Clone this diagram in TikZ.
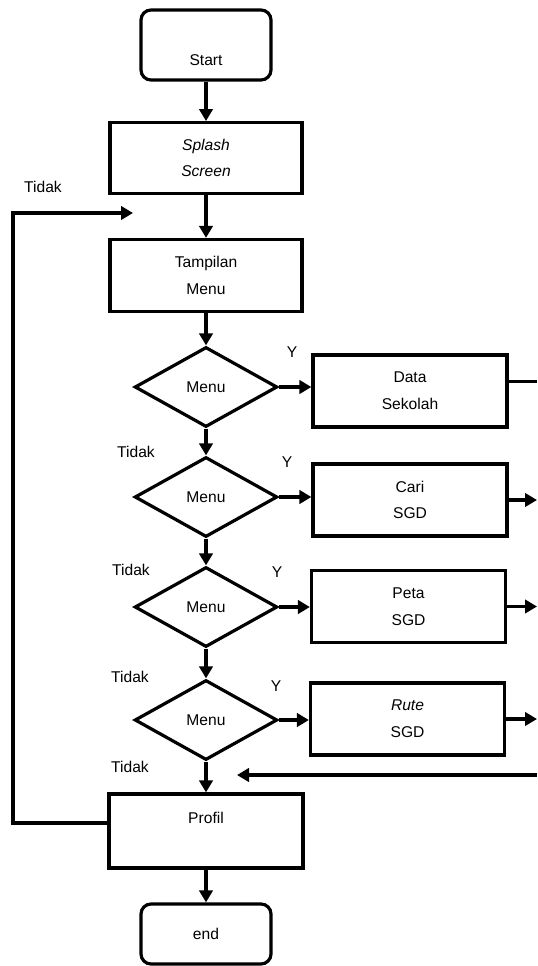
\documentclass[tikz,border=0pt]{standalone}
\usepackage{fontspec}
\setmainfont{Liberation Sans}
\usetikzlibrary{shapes.geometric,arrows.meta}

\begin{document}
\begin{tikzpicture}[x=0.75pt, y=-0.75pt, line width=2.4pt,
                    >={Triangle[length=9pt,width=10pt]},
                    every node/.style={font=\fontsize{11.7}{20}\selectfont, align=center},
                    term node/.style={draw, rounded corners=7.5pt, minimum width=97.5pt, inner sep=0pt},
                    box node/.style={draw, minimum width=144pt, minimum height=53pt, inner sep=0pt},
                    side node/.style={draw, minimum width=145.5pt, minimum height=54pt, inner sep=0pt},
                    menu node/.style={draw, diamond, minimum width=107pt, minimum height=60pt, inner sep=0pt}]

		  \useasboundingbox (0,0) rectangle (537,966);

		  \node[term node, minimum height=52.5pt, text height=39.5pt, text depth=8pt] (start) at (206,45) {Start};
		  \node[box node] (splash) at (206,158) {\textit{Splash}\\\textit{Screen}};
		  \node[box node, minimum height=54pt] (tampil) at (206,275.5) {Tampilan\\Menu};
		  \node[menu node] (menu1) at (206,387) {Menu};
		  \node[menu node] (menu2) at (206,497) {Menu};
		  \node[menu node] (menu3) at (206,607) {Menu};
		  \node[menu node] (menu4) at (206,720) {Menu};
		  \node[side node] (data) at (410,391) {Data\\Sekolah};
		  \node[side node] (cari) at (410,500) {Cari\\SGD};
		  \node[side node] (peta) at (408.5,606.5) {Peta\\SGD};
		  \node[side node] (rute) at (407.5,719) {\textit{Rute}\\SGD};
		  \node[box node, minimum width=145.5pt, minimum height=55.5pt] (profil) at (206,831) {Profil\\\mbox{}};
		  \node[term node, minimum height=45pt] (stop) at (206,934) {end};

		  \node (tidak0) at (43,187) {Tidak};
		  \node (ya1) at (292,352) {Y};
		  \node (tidak1) at (136,452) {Tidak};
		  \node (ya2) at (287,462) {Y};
		  \node (tidak2) at (131,570) {Tidak};
		  \node (ya3) at (277,572) {Y};
		  \node (tidak3) at (130,677) {Tidak};
		  \node (ya4) at (276,686) {Y};
		  \node (tidak4) at (130,767) {Tidak};

		  \coordinate (rgt) at (537,0);
		  \coordinate (loopl) at (13,0);
		  \coordinate (looptip) at (133,213);
		  \coordinate (back) at (537,775);
		  \coordinate (backtip) at (237,775);

		  \path[->]
		    (start) edge (splash)
		    (splash) edge (tampil)
		    (tampil) edge (menu1)
		    (menu1) edge (menu2)
		    (menu2) edge (menu3)
		    (menu3) edge (menu4)
		    (menu4) edge (profil)
		    (profil) edge (stop)
		    ;

		  \foreach \m/\b in {menu1/data, menu2/cari, menu3/peta, menu4/rute}
		    \draw[->] (\m.east) -- (\m.east -| \b.west);

		  \draw ([yshift=7pt]data.east) -- ([yshift=7pt]data.east -| rgt);
		  \foreach \b in {cari, peta, rute}
		    \draw[->] (\b.east) -- (\b.east -| rgt);

		  \draw[->] (back) -- (backtip);
		  \draw[->] ([yshift=6pt]profil.west) -| (loopl |- looptip) -- (looptip);
	\end{tikzpicture}
\end{document}
